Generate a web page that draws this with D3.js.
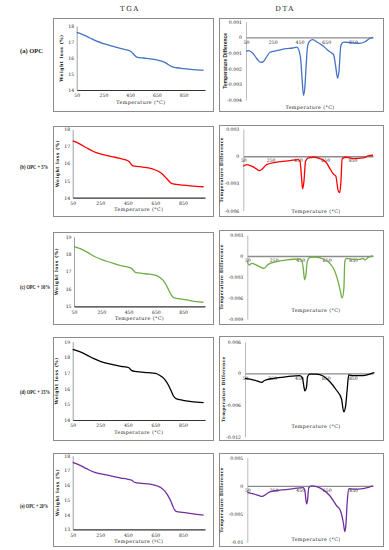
<!DOCTYPE html>
<html>
<head>
<meta charset="utf-8">
<script src="https://cdn.jsdelivr.net/npm/d3@7"></script>
<style>
  body { margin: 0; background: #fff; }
  svg { display: block; }
  text { font-family: "DejaVu Serif", "Liberation Serif", serif; fill: #222; }
</style>
</head>
<body>
<svg></svg>
<script>
var width = 389;
var height = 550;

// SAMPLES
var samples = ["(a) OPC", "(b) OPC + 5%", "(c) OPC + 10%", "(d) OPC + 15%", "(e) OPC + 20%"];
var colors = ["#4472c4", "#ff0000", "#70ad47", "#000000", "#7030a0"];

// TGA - weight loss (%) vs temperature
var tgaTemps = [50, 100, 150, 200, 250, 300, 350, 400, 440, 460, 480, 500, 550, 600, 650, 680, 700, 720, 740, 760, 780, 800, 850, 900, 950, 1000];
var tgaA = [17.6, 17.45, 17.25, 17.05, 16.9, 16.78, 16.66, 16.55, 16.47, 16.38, 16.2, 16.06, 16.0, 15.95, 15.88, 15.82, 15.76, 15.68, 15.56, 15.46, 15.42, 15.39, 15.34, 15.29, 15.26, 15.24];
var tgaB = [17.32, 17.15, 16.92, 16.7, 16.56, 16.46, 16.38, 16.28, 16.2, 16.1, 15.9, 15.84, 15.8, 15.74, 15.62, 15.5, 15.38, 15.22, 15.05, 14.88, 14.81, 14.78, 14.73, 14.69, 14.66, 14.64];
var tgaC = [18.43, 18.3, 18.1, 17.86, 17.7, 17.56, 17.44, 17.32, 17.26, 17.22, 17.12, 16.95, 16.89, 16.85, 16.78, 16.66, 16.52, 16.3, 16.0, 15.7, 15.5, 15.46, 15.4, 15.33, 15.27, 15.23];
var tgaD = [18.51, 18.36, 18.16, 17.93, 17.75, 17.62, 17.52, 17.43, 17.38, 17.32, 17.15, 17.1, 17.06, 17.02, 16.97, 16.86, 16.74, 16.56, 16.3, 15.95, 15.55, 15.36, 15.26, 15.19, 15.14, 15.11];
var tgaE = [17.55, 17.36, 17.12, 16.9, 16.78, 16.68, 16.58, 16.48, 16.42, 16.38, 16.32, 16.18, 16.12, 16.08, 15.98, 15.88, 15.76, 15.58, 15.3, 14.95, 14.5, 14.22, 14.15, 14.08, 14.02, 13.97];
var tgaSeries = [tgaA, tgaB, tgaC, tgaD, tgaE];
var tgaDomains = [[14, 18], [14, 18], [15, 19], [14, 19], [13, 18]];

// DTA - temperature difference vs temperature
var dtaTempsA = [50, 70, 100, 130, 160, 180, 200, 230, 280, 350, 400, 430, 445, 460, 470, 480, 490, 500, 510, 525, 550, 580, 620, 660, 690, 705, 720, 735, 745, 760, 780, 850, 900, 940, 980, 1000];
var dtaA = [-0.0009, -0.00085, -0.001, -0.00135, -0.0016, -0.00155, -0.0013, -0.00095, -0.00085, -0.00072, -0.00068, -0.00062, -0.0008, -0.0015, -0.0027, -0.0037, -0.0032, -0.0018, -0.0006, -0.00025, -0.00015, -0.0003, -0.0005, -0.0008, -0.001, -0.0011, -0.0018, -0.0026, -0.0022, -0.0005, -0.0003, -0.00035, -0.00038, -0.00028, -0.00005, 0];
var dtaTempsB = [50, 74, 111, 148, 167, 184, 221, 294, 391, 452, 465, 477, 484, 494, 506, 526, 562, 611, 660, 684, 709, 728, 745, 757, 765, 774, 806, 855, 928, 965, 1000];
var dtaB = [-0.0011, -0.00092, -0.0011, -0.0014, -0.00158, -0.00147, -0.00092, -0.00066, -0.00048, -0.00037, -0.00055, -0.0024, -0.0036, -0.0028, -0.00055, -0.00018, -0.00011, -0.00026, -0.00074, -0.00136, -0.00195, -0.0022, -0.0038, -0.004, -0.0028, -0.00026, -0.00011, -0.00026, -0.00018, 0.00004, 0.00011];
var dtaTempsC = [50, 65, 83, 120, 158, 176, 208, 271, 347, 435, 460, 473, 483, 493, 503, 523, 561, 624, 674, 712, 737, 754, 767, 780, 787, 800, 850, 900, 925, 938, 963, 1000];
var dtaC = [-0.0008, -0.0013, -0.00105, -0.0013, -0.00167, -0.00176, -0.0012, -0.0008, -0.00057, -0.00043, -0.00057, -0.00176, -0.0034, -0.0027, -0.0008, -0.00019, -0.00014, -0.00043, -0.00105, -0.0022, -0.0037, -0.0051, -0.006, -0.0046, -0.0008, -0.00033, -0.00048, -0.00048, -0.00033, -0.00057, -0.00019, 0];
var dtaTempsD = [50, 87, 136, 173, 198, 260, 359, 457, 477, 487, 494, 507, 514, 531, 581, 630, 680, 729, 766, 783, 796, 808, 820, 852, 926, 976, 1010];
var dtaD = [-0.00095, -0.0011, -0.0014, -0.0017, -0.0013, -0.00095, -0.00063, -0.00044, -0.00095, -0.0025, -0.0033, -0.0025, -0.00063, -0.00013, -0.00013, -0.0005, -0.0016, -0.0032, -0.0048, -0.0073, -0.0063, -0.0032, -0.0003, -0.00044, -0.00044, -0.00013, 0.00013];
var dtaTempsE = [50, 70, 120, 158, 176, 221, 297, 372, 473, 485, 498, 505, 515, 536, 573, 624, 674, 724, 754, 775, 787, 795, 805, 817, 850, 926, 976, 1000];
var dtaE = [-0.00116, -0.00128, -0.00157, -0.00186, -0.00174, -0.00105, -0.00076, -0.00058, -0.00029, -0.00087, -0.0032, -0.0026, -0.00029, 0, -0.00012, -0.0007, -0.00174, -0.0035, -0.0044, -0.0064, -0.0081, -0.007, -0.0029, -0.00047, -0.00058, -0.00047, -0.00017, 0];
var dtaTemps = [dtaTempsA, dtaTempsB, dtaTempsC, dtaTempsD, dtaTempsE];
var dtaSeries = [dtaA, dtaB, dtaC, dtaD, dtaE];
var dtaTicks = [
  [0.001, 0, -0.001, -0.002, -0.003, -0.004],
  [0.003, 0, -0.003, -0.006],
  [0.003, 0, -0.003, -0.006, -0.009],
  [0.006, 0, -0.006, -0.012],
  [0.005, 0, -0.005, -0.01]
];
var tempTicks = [50, 250, 450, 650, 850];

// LAYOUT (pixel boxes for every row)
var layout = [
  { labelY: 51, labelW: 23, tBox: [53, 18, 213, 111], tX: 76.7, tY: [90, 26], tYl: 63,
    dBox: [219, 18, 383, 111], dX: 246, dY: [100, 21.7], dTitle: 107, dYl: 227 },
  { labelY: 167, labelW: 28, tBox: [53, 126, 213, 216], tX: 72.7, tY: [197.7, 129.3], tYl: 59,
    dBox: [219, 125, 383, 216], dX: 243.3, dY: [210.7, 129], dTitle: 211.7, dYl: 223 },
  { labelY: 287, labelW: 30, tBox: [53, 232, 213, 324], tX: 74, tY: [306.3, 236.7], tYl: 58,
    dBox: [219, 230, 383, 324], dX: 247.3, dY: [319, 235], dTitle: 310.7, dYl: 223 },
  { labelY: 392, labelW: 30, tBox: [53, 337, 213, 440], tX: 72.7, tY: [420, 341.7], tYl: 57.5,
    dBox: [219, 336, 383, 440], dX: 245, dY: [436.7, 341.7], dTitle: 426.7, dYl: 225 },
  { labelY: 506, labelW: 28, tBox: [53, 453, 213, 546], tX: 72.7, tY: [529.3, 455.7], tYl: 59,
    dBox: [219, 453, 383, 546], dX: 247.3, dY: [542.3, 457.7], dTitle: 539, dYl: 223 }
];

var svg = d3.select("svg").attr("width", width).attr("height", height);

// column headers
svg.append("text").attr("x", 130).attr("y", 11).attr("text-anchor", "middle")
  .style("font-size", "7px").style("letter-spacing", "1.5px").text("TGA");
svg.append("text").attr("x", 285).attr("y", 11).attr("text-anchor", "middle")
  .style("font-size", "7px").style("letter-spacing", "1.5px").text("DTA");

function box(b) {
  svg.append("rect")
    .attr("x", b[0] + 0.5).attr("y", b[1] + 0.5)
    .attr("width", b[2] - b[0]).attr("height", b[3] - b[1])
    .attr("fill", "#fff").attr("stroke", "#8c8c8c").attr("stroke-width", 1);
}

function styleTicks(g) {
  g.selectAll(".tick line").remove();
  g.selectAll(".tick text").style("font-size", "4.6px")
    .style("font-family", "'DejaVu Serif', serif").attr("fill", "#333");
}

layout.forEach(function (L, i) {
  // ---------- TGA ----------
  box(L.tBox);
  var x = d3.scaleLinear().domain([50, 1010]).range([L.tX, 205]);
  var y = d3.scaleLinear().domain(tgaDomains[i]).range(L.tY);

  var yTicks = d3.range(tgaDomains[i][0], tgaDomains[i][1] + 1);
  var gy = svg.append("g").attr("transform", "translate(" + L.tX + ",0)")
    .call(d3.axisLeft(y).tickValues(yTicks).tickSize(0).tickPadding(2.5).tickFormat(d3.format("d")));
  gy.select(".domain").attr("stroke", "#888").attr("stroke-width", 0.8);
  styleTicks(gy);

  var gx = svg.append("g").attr("transform", "translate(0," + L.tY[0] + ")")
    .call(d3.axisBottom(x).tickValues(tempTicks).tickSize(0).tickPadding(4).tickSizeOuter(0));
  gx.select(".domain").attr("stroke", "#333").attr("stroke-width", 1.2);
  styleTicks(gx);

  svg.append("text").attr("x", (L.tX + 205) / 2).attr("y", L.tY[0] + 13.5)
    .attr("text-anchor", "middle").style("font-size", "4.8px").style("letter-spacing", "0.4px")
    .text(i == 4 ? "Temperature (ºC)" : "Temperature (°C)");

  svg.append("text")
    .attr("transform", "translate(" + L.tYl + "," + (L.tY[0] + L.tY[1]) / 2 + ") rotate(-90)")
    .attr("text-anchor", "middle").style("font-size", "4.6px").style("letter-spacing", "0.5px")
    .style("font-weight", "bold")
    .text("Weight loss (%)");

  var tgaLine = d3.line()
    .x(function (d, k) { return x(tgaTemps[k]); })
    .y(function (d) { return y(d); })
    .curve(d3.curveMonotoneX);
  svg.append("path").datum(tgaSeries[i])
    .attr("d", tgaLine).attr("fill", "none")
    .attr("stroke", colors[i]).attr("stroke-width", 1.3);

  // ---------- DTA ----------
  box(L.dBox);
  var ticks = dtaTicks[i];
  var dx = d3.scaleLinear().domain([50, 1000]).range([L.dX, 373]);
  var dy = d3.scaleLinear().domain([d3.min(ticks), d3.max(ticks)]).range(L.dY);

  var dgy = svg.append("g").attr("transform", "translate(" + L.dX + ",0)")
    .call(d3.axisLeft(dy).tickValues(ticks).tickSize(0).tickPadding(4).tickFormat(function (d) { return d; }));
  dgy.select(".domain").attr("stroke", "#aaa").attr("stroke-width", 0.8);
  styleTicks(dgy);

  var dgx = svg.append("g").attr("transform", "translate(0," + dy(0) + ")")
    .call(d3.axisBottom(dx).tickValues(tempTicks).tickSize(0).tickPadding(3).tickSizeOuter(0));
  dgx.select(".domain").attr("stroke", "#8c8c8c").attr("stroke-width", 1.3);
  styleTicks(dgx);

  svg.append("text").attr("x", i == 0 ? 310 : 316).attr("y", L.dTitle + 1.5)
    .attr("text-anchor", "middle").style("font-size", "4.8px").style("letter-spacing", "0.4px")
    .text("Temperature (°C)");

  svg.append("text")
    .attr("transform", "translate(" + L.dYl + "," + (L.dY[0] + L.dY[1]) / 2 + ") rotate(-90)")
    .attr("text-anchor", "middle")
    .style("font-size", i == 0 ? "5px" : "4.4px")
    .style("font-family", i == 0 ? "'Liberation Sans', Arial, sans-serif" : null)
    .style("font-weight", "bold")
    .style("letter-spacing", i == 0 ? "0px" : "0.3px")
    .text("Temperature Difference");

  var dtaLine = d3.line()
    .x(function (d, k) { return dx(dtaTemps[i][k]); })
    .y(function (d) { return dy(d); })
    .curve(d3.curveMonotoneX);
  svg.append("path").datum(dtaSeries[i])
    .attr("d", dtaLine).attr("fill", "none")
    .attr("stroke", colors[i]).attr("stroke-width", 1.3);

  // row label, drawn last so the boxes never hide it
  svg.append("text").attr("x", 20).attr("y", L.labelY + 2)
    .attr("textLength", L.labelW).attr("lengthAdjust", "spacingAndGlyphs")
    .style("font-family", "'Liberation Serif', 'Times New Roman', serif")
    .style("font-size", "5.8px").style("font-weight", "bold").attr("fill", "#111")
    .text(samples[i]);
});
</script>
</body>
</html>
